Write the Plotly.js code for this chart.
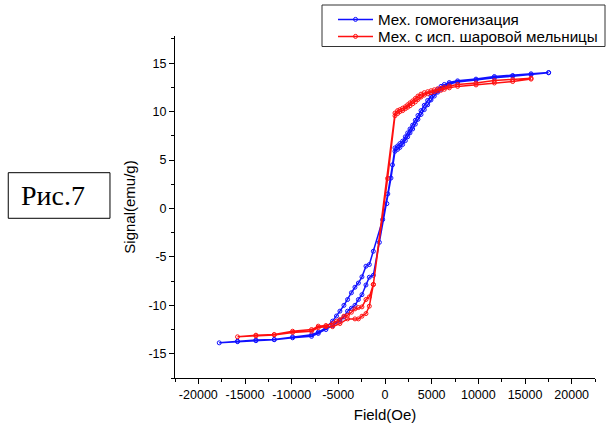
<!DOCTYPE html>
<html>
<head>
<meta charset="utf-8">
<script src="https://cdn.plot.ly/plotly-3.0.1.min.js"></script>
<style>
  html, body { margin: 0; padding: 0; background: #fff; }
  #chart { width: 606px; height: 428px; }
</style>
</head>
<body>
<div id="chart"></div>
<script>
// ---- Data (Field in Oe, Signal in emu/g) ----
const blueName = "Мех. гомогенизация";
const redName = "Мех. с исп. шаровой мельницы";

const blueField = [
  17530, 15650, 13680, 11720, 9750, 7780, 6890, 6360, 6000, 5640, 5280, 4930, 4570, 4210, 3860, 3530, 3250, 2960, 2680, 2430, 2180, 1890, 1600, 1350, 1070,
  800, 300, -250, -1250, -1680, -2040, -2470, -2850, -3220, -3600, -4010, -4400, -4830, -5200, -5620, -6330, -7150, -7870, -9900, -11870, -13830, -15800, -17760,
  -15800, -13830, -11870, -9900, -7870, -7150, -6330, -5620, -4830, -4400, -4010, -3600, -3220, -2850, -2470, -2040, -1680, -1250, -600, 200, 640,
  1070, 1350, 1600, 1890, 2180, 2430, 2680, 2960, 3250, 3530, 3860, 4210, 4570, 4930, 5280, 5640, 6000, 6360, 6890, 7780, 9750, 11720, 13680, 15650, 17530
];
const blueSignal = [
  14.03, 13.9, 13.72, 13.62, 13.35, 13.17, 13.0, 12.8, 12.6, 12.3, 12.0, 11.6, 11.15, 10.65, 10.1, 9.6, 9.1, 8.6, 8.2, 7.8, 7.4, 6.95, 6.7, 6.45, 6.25,
  4.5, 1.5, -1.15, -4.42, -5.79, -5.96, -7.06, -7.7, -8.13, -8.7, -9.4, -10.0, -10.6, -11.1, -11.63, -12.32, -12.77, -13.04, -13.25, -13.52, -13.59, -13.7, -13.87,
  -13.75, -13.65, -13.55, -13.35, -13.2, -12.9, -12.5, -12.1, -11.55, -11.2, -10.6, -10.3, -10.0, -9.4, -8.9, -7.9, -7.1, -6.9, -3.5, 0.5, 3.14,
  5.9, 6.1, 6.3, 6.6, 7.0, 7.4, 7.8, 8.2, 8.7, 9.2, 9.7, 10.2, 10.7, 11.2, 11.6, 12.0, 12.3, 12.6, 12.85, 13.05, 13.25, 13.5, 13.65, 13.8, 14.0
];

const redField = [
  15650, 13680, 11720, 9750, 7780, 6890, 6360, 6000, 5640, 5280, 4930, 4570, 4210, 3860, 3530, 3250, 2960, 2680, 2430, 2180, 1890, 1600, 1350, 1070,
  -1250, -1680, -2040, -2470, -2850, -3220, -3600, -4010, -4400, -4830, -5200, -5620, -6330, -7150, -7870, -9900, -11870, -13830, -15800,
  -13830, -11870, -9900, -7870, -7150, -6330, -5620, -4830, -4010, -3220, -2850, -2470, -2040, -1680, -1250, 280,
  1070, 1350, 1600, 1890, 2180, 2430, 2680, 2960, 3250, 3530, 3860, 4210, 4570, 4930, 5280, 5640, 6000, 6360, 6890, 7780, 9750, 11720, 13680, 15650
];
const redSignal = [
  13.45, 13.3, 13.2, 12.95, 12.8, 12.65, 12.5, 12.4, 12.35, 12.25, 12.15, 12.05, 11.95, 11.8, 11.6, 11.35, 11.1, 10.9, 10.7, 10.5, 10.35, 10.2, 10.1, 9.85,
  -7.85, -9.13, -9.4, -10.16, -10.23, -10.37, -10.71, -11.02, -11.12, -11.47, -11.64, -11.88, -12.08, -12.15, -12.5, -12.67, -13.01, -13.08, -13.25,
  -13.15, -13.05, -12.8, -12.67, -12.3, -12.2, -12.2, -11.88, -11.4, -11.4, -11.4, -11.12, -10.85, -10.09, -7.85, 3.1,
  9.57, 9.8, 10.0, 10.1, 10.3, 10.45, 10.6, 10.8, 11.0, 11.25, 11.5, 11.7, 11.85, 11.95, 12.05, 12.15, 12.2, 12.3, 12.45, 12.6, 12.75, 12.95, 13.1, 13.35
];

const xTickVals = [-20000, -15000, -10000, -5000, 0, 5000, 10000, 15000, 20000];
const xTickText = ["-20000", "-15000", "-10000", "-5000", "0", "5000", "10000", "15000", "20000"];
const yTickVals = [-15, -10, -5, 0, 5, 10, 15];
const yTickText = ["-15", "-10", "-5", "0", "5", "10", "15"];

const xTitle = "Field(Oe)";
const yTitle = "Signal(emu/g)";
const figLabel = "Рис.7";

// ---- Chart ----
const font = "Arial, 'Liberation Sans', sans-serif";
function series(x, y, name, color, legendId) {
  return {
    x: x, y: y, name: name, type: "scatter", mode: "lines+markers",
    legend: legendId,
    line: { color: color, width: 1.5 },
    marker: { symbol: "circle-open", size: 4, color: color, line: { width: 1, color: color } }
  };
}
const traces = [
  series(blueField, blueSignal, blueName, "#1010ff", "legend"),
  series(redField, redSignal, redName, "#ff1010", "legend2")
];

const axisCommon = {
  showline: true, linecolor: "#000", linewidth: 1, mirror: false,
  showgrid: false, zeroline: false,
  ticks: "outside", ticklen: 5, tickwidth: 1, tickcolor: "#000",
  tickfont: { family: font, size: 12.5, color: "#000" },
  tickmode: "array", automargin: false
};

function legendAt(yPix) {
  return {
    xref: "container", yref: "container",
    x: 333 / 606, y: 1 - yPix / 428, xanchor: "left", yanchor: "middle",
    bgcolor: "rgba(0,0,0,0)", borderwidth: 0,
    font: { family: font, size: 15.2, color: "#000" },
    itemwidth: 35
  };
}

const layout = {
  width: 606, height: 428,
  margin: { l: 175, r: 11, t: 36, b: 50, autoexpand: false },
  paper_bgcolor: "#fff", plot_bgcolor: "#fff",
  showlegend: true,
  legend: legendAt(19.5),
  legend2: legendAt(36.5),
  xaxis: Object.assign({}, axisCommon, {
    range: [-22500, 22500],
    tickvals: xTickVals, ticktext: xTickText,
    minor: { ticks: "outside", ticklen: 3, tickcolor: "#000", dtick: 2500, tick0: 0, showgrid: false },
    title: { text: xTitle, font: { family: font, size: 15, color: "#000" }, standoff: 8 }
  }),
  yaxis: Object.assign({}, axisCommon, {
    range: [-17.5, 17.8],
    tickvals: yTickVals, ticktext: yTickText,
    minor: { ticks: "outside", ticklen: 3, tickcolor: "#000", dtick: 2.5, tick0: 0, showgrid: false },
    title: { text: yTitle, font: { family: font, size: 15, color: "#000" }, standoff: 9 }
  }),
  shapes: [
    {
      type: "rect", xref: "paper", yref: "paper",
      x0: -0.397, x1: -0.1548, y0: 0.467, y1: 0.6003,
      line: { color: "#000", width: 1 }, fillcolor: "rgba(0,0,0,0)"
    },
    {
      type: "rect", xref: "paper", yref: "paper",
      x0: (322 - 175) / 420, x1: (605 - 175) / 420, y0: (378 - 46.5) / 342, y1: (378 - 5) / 342,
      line: { color: "#333", width: 1 }, fillcolor: "rgba(0,0,0,0)"
    }
  ],
  annotations: [{
    text: figLabel, xref: "paper", yref: "paper",
    x: -0.2905, y: 0.5336, xanchor: "center", yanchor: "middle",
    showarrow: false,
    font: { family: "'Liberation Serif', 'Times New Roman', serif", size: 28, color: "#000" }
  }]
};

Plotly.newPlot("chart", traces, layout, { displayModeBar: false, staticPlot: true });
</script>
</body>
</html>
